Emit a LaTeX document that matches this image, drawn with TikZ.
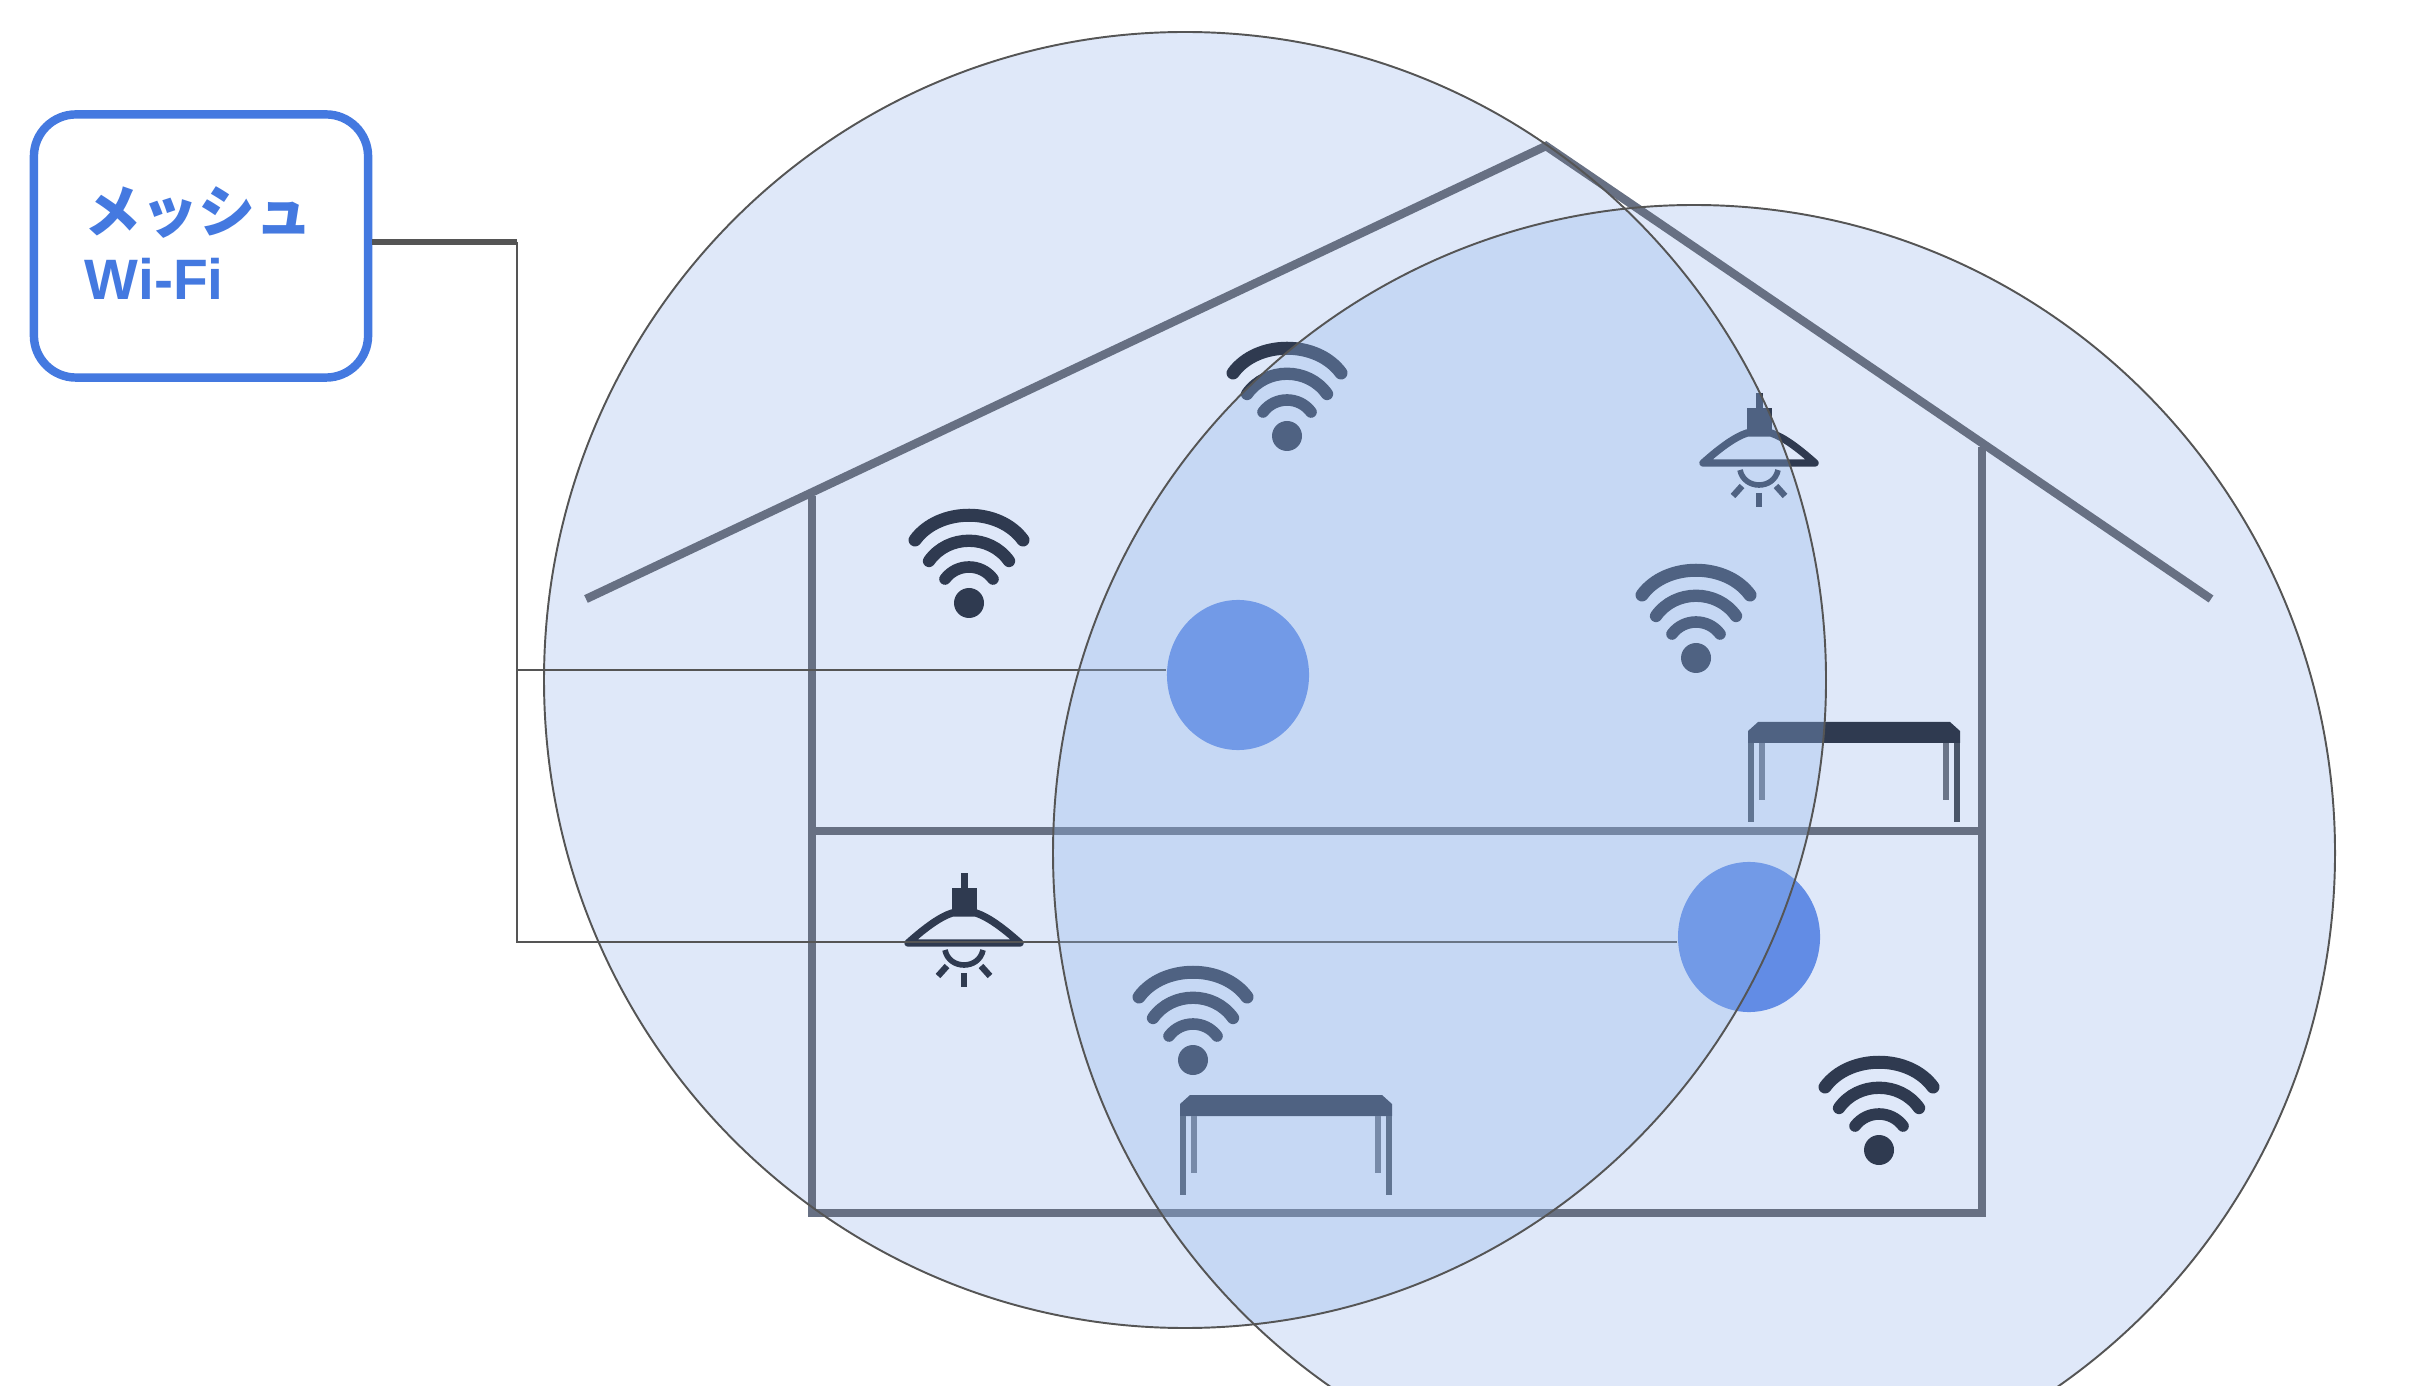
\documentclass[tikz,border=0pt]{standalone}
\usepackage{fontspec}
\setmainfont{Liberation Sans}
\newfontfamily\jpfont{Noto Sans CJK JP}
\usetikzlibrary{shapes.geometric}

\definecolor{meshblue}{HTML}{4479E0}
\definecolor{rangeblue}{HTML}{DFE8F9}
\definecolor{overlapblue}{HTML}{94B9EC}
\definecolor{dotblue}{HTML}{628CE5}
\definecolor{wallgray}{HTML}{677083}
\definecolor{icondark}{HTML}{2F3A50}
\definecolor{legdark}{HTML}{4A5568}
\definecolor{legpale}{HTML}{6A7488}
\definecolor{wiregray}{HTML}{555555}

\begin{document}
\begin{tikzpicture}[x=0.01cm,y=-0.01cm]

    % Set the canvas size
    \useasboundingbox (0,0) rectangle (2416,1386);

    % Define styles
    \tikzset{
        wall/.style={line width=2.4pt, wallgray},
        feed/.style={line width=0.7pt, wiregray},
        feedtop/.style={line width=1.5pt, wiregray},
        edge/.style={line width=0.55pt, wiregray},
        meshbox/.style={draw=meshblue, line width=2.4pt, rounded corners=0.42cm, fill=white,
            minimum width=3.34cm, minimum height=2.63cm, inner xsep=0.51cm, inner ysep=0pt,
            text width=2.32cm, align=left, text=meshblue, font=\fontsize{16.2}{19}\selectfont\bfseries},
        apdot/.style={ellipse, fill=dotblue, inner sep=0pt, minimum width=1.42cm, minimum height=1.5cm},
        wifi/.pic={
            \fill[icondark] (0,0) circle (15);
            \foreach \ex/\ey/\cx/\cy/\lw in {54/-63/30/-96/3.7, 40/-42/21/-69/3.5, 24/-24/12/-40/3.3} {
                \draw[icondark, line width=\lw pt, line cap=round] (-\ex,\ey) .. controls (-\cx,\cy) and (\cx,\cy) .. (\ex,\ey);
            }
        },
        lamp/.pic={
            \draw[icondark, line width=2pt] (0,-70) -- (0,-55);
            \fill[icondark] (-12.5,-55) rectangle (12.5,-30);
            \draw[icondark, line width=2.1pt, line join=round] (-56,0) .. controls (-38,-16) and (-24,-26) .. (-12,-30) -- (12,-30) .. controls (24,-26) and (38,-16) .. (56,0) -- cycle;
            \draw[icondark, line width=1.6pt] (-19,7) .. controls (-15,27) and (15,27) .. (19,7);
            \draw[icondark, line width=1.8pt] (0,30) -- (0,44);
            \draw[icondark, line width=1.8pt] (-17,23) -- (-26,33);
            \draw[icondark, line width=1.8pt] (17,23) -- (26,33);
        },
        table/.pic={
            \fill[icondark] (-106,21) -- (-106,9) -- (-96,0) -- (96,0) -- (106,9) -- (106,21) -- cycle;
            \draw[legdark, line width=1.8pt] (-103,21) -- (-103,100);
            \draw[legdark, line width=1.8pt] (103,21) -- (103,100);
            \draw[legpale, line width=1.5pt] (-92,21) -- (-92,78);
            \draw[legpale, line width=1.5pt] (92,21) -- (92,78);
        },
    }

    % The two wifi ranges
    \fill[rangeblue] (1185,680) ellipse (641 and 648);
    \fill[rangeblue] (1694,853) ellipse (641 and 648);

    % House outline
    \draw[wall] (586,599) -- (1546,146) -- (2211,599);
    \draw[wall] (812,496) -- (812,1213) -- (1982,1213) -- (1982,447);
    \draw[wall] (812,831) -- (1982,831);

    % Icons
    \foreach \ix/\iy in {969/603, 1287/436, 1696/658, 1193/1060, 1879/1150} {
        \pic at (\ix,\iy) {wifi};
    }
    \pic at (1759,463) {lamp};
    \pic at (964,943) {lamp};
    \pic at (1854,722) {table};
    \pic at (1286,1095) {table};

    % Box and access points
    \node[meshbox] (mesh) at (201,246) {{\jpfont メッシュ}\\Wi-Fi\rule[-1.7pt]{0pt}{0pt}};
    \node[apdot] (apA) at (1238,675) {};
    \node[apdot] (apB) at (1749,937) {};
    \coordinate (bend) at (517,242);

    % Connectors
    \draw[feedtop] (mesh.east |- bend) -- (bend);
    \draw[feed] (bend) -- (bend |- apB.184) -- (apB.184);
    \draw[feed] (bend |- apA.176) -- (apA.176);

    % Overlap of the ranges, on top of the drawing
    \begin{scope}
        \clip (1185,680) ellipse (641 and 648);
        \fill[overlapblue, fill opacity=0.32] (1694,853) ellipse (641 and 648);
    \end{scope}

    % Range outlines
    \draw[edge] (1185,680) ellipse (641 and 648);
    \draw[edge] (1694,853) ellipse (641 and 648);

\end{tikzpicture}
\end{document}
